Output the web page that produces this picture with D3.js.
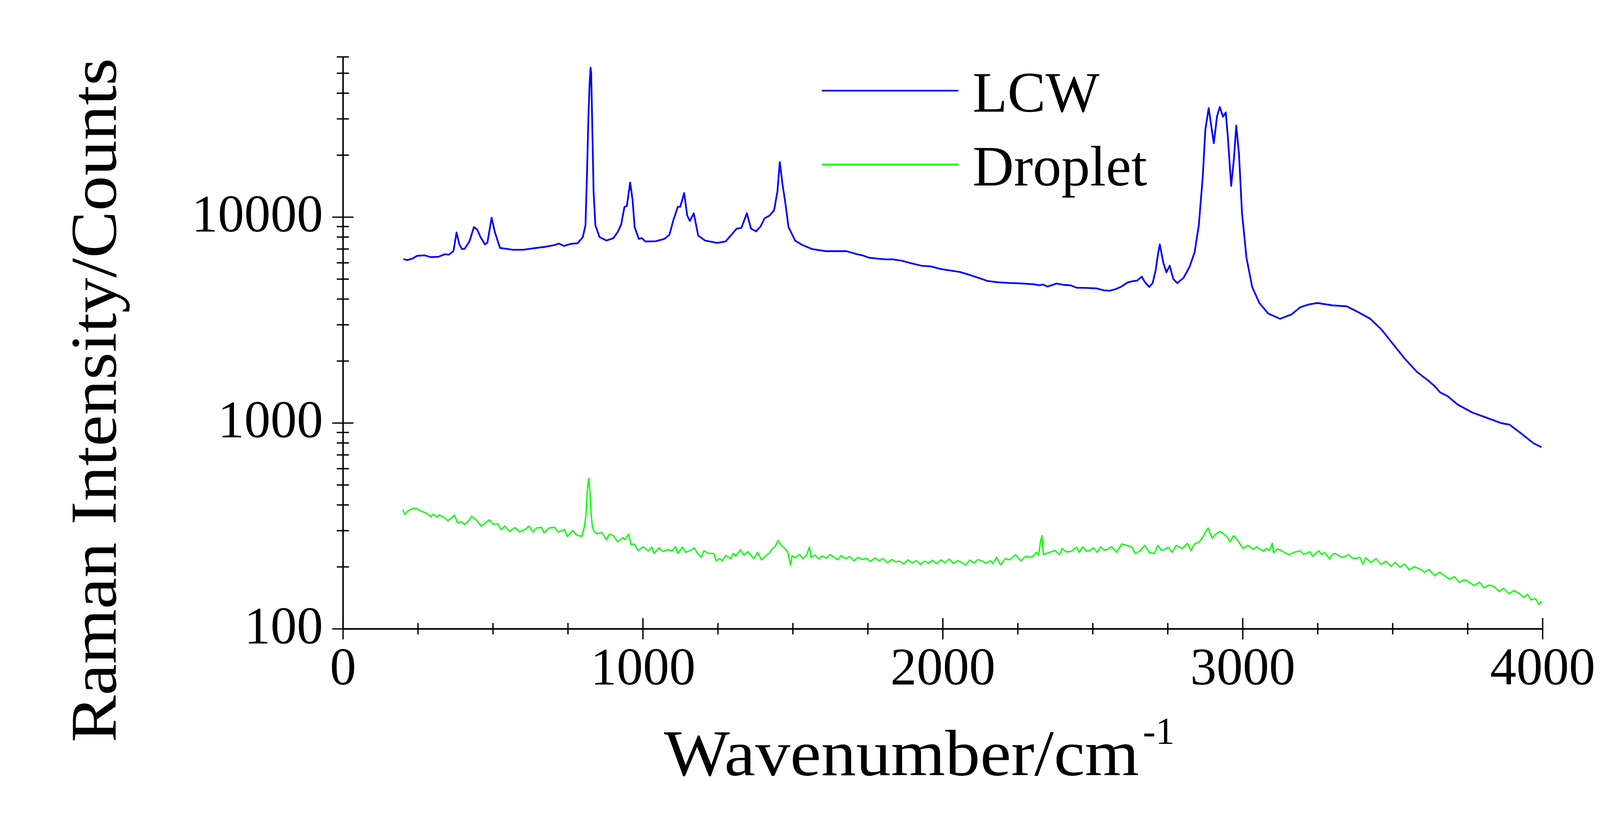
<!DOCTYPE html>
<html>
<head>
<meta charset="utf-8">
<script src="https://cdn.jsdelivr.net/npm/d3@7"></script>
<style>
  html, body { margin: 0; padding: 0; background: #fff; overflow: hidden; }
  svg { display: block; width: 100vw; height: 50vw; }
  text { font-family: "Liberation Serif", "DejaVu Serif", serif; fill: #000; }
</style>
</head>
<body>
<script>
// LCW spectrum (wavenumber / counts)
const lcwWavenumber = [202,215,232,247,272,293,318,340,354,369,379,388,397,406,422,437,448,459,474,482,496,507,524,567,601,635,680,709,720,737,760,783,800,809,814,819,823,826,828,831,836,842,856,879,902,916,928,939,947,958,966,973,987,996,1009,1043,1072,1089,1102,1117,1125,1138,1148,1157,1170,1185,1208,1248,1276,1293,1313,1329,1347,1361,1378,1393,1406,1423,1438,1449,1457,1466,1474,1486,1508,1531,1565,1610,1679,1715,1734,1754,1780,1812,1831,1863,1896,1928,1961,1993,2026,2058,2091,2123,2149,2181,2220,2266,2304,2324,2334,2350,2380,2402,2428,2447,2479,2512,2538,2557,2577,2596,2616,2635,2648,2664,2674,2689,2700,2710,2718,2724,2736,2746,2757,2769,2782,2803,2823,2840,2854,2867,2876,2887,2904,2915,2924,2935,2944,2951,2962,2971,2979,2988,2998,3013,3032,3056,3085,3125,3163,3192,3221,3250,3299,3348,3387,3426,3464,3503,3542,3581,3620,3640,3659,3683,3717,3766,3815,3863,3890,3931,3970,3997];
const lcwCounts = [6240,6170,6280,6470,6510,6380,6400,6590,6560,6840,8410,7390,6980,7000,7600,8930,8690,7980,7360,7500,9910,8430,7070,6930,6930,7040,7180,7320,7430,7230,7400,7450,7980,9100,16100,31300,45000,53100,50000,31000,13300,9100,7980,7680,7890,8430,9180,11200,11300,14700,12100,8930,7820,7900,7600,7620,7820,8200,9640,11200,11200,13070,10200,9560,10420,8110,7680,7480,7600,8110,8770,8850,10420,8770,8510,9000,9840,10160,10790,13300,18460,14360,12100,8930,7680,7320,6980,6820,6820,6590,6500,6340,6280,6220,6230,6130,5950,5800,5750,5590,5490,5400,5220,5040,4890,4820,4780,4750,4710,4650,4700,4590,4750,4680,4650,4530,4520,4500,4400,4380,4460,4590,4800,4880,4900,5130,4830,4570,4770,5490,6590,7360,5970,5380,5800,5000,4770,5060,5710,6730,9080,15530,26600,33800,22800,30900,34200,30700,32200,24300,14150,19100,27800,20300,10500,6340,4570,3820,3400,3200,3360,3640,3760,3820,3720,3680,3440,3200,2830,2400,2040,1770,1600,1510,1405,1350,1227,1122,1057,996,980,883,796,761];

// Droplet spectrum (wavenumber / counts)
const dropletWavenumber = [200,206,220,236,247,260,277,293,301,314,321,334,350,362,372,382,394,406,419,429,447,461,468,488,501,516,528,540,556,574,589,605,621,633,645,662,671,686,706,718,739,749,767,781,797,805,811,815,819,824,828,832,838,848,864,879,888,901,917,933,941,953,961,972,984,1002,1018,1030,1038,1054,1067,1083,1099,1109,1117,1132,1143,1159,1172,1180,1195,1204,1221,1237,1245,1257,1265,1277,1293,1302,1310,1326,1338,1350,1370,1383,1396,1410,1422,1432,1442,1451,1458,1466,1474,1483,1493,1498,1510,1522,1534,1546,1556,1561,1574,1586,1598,1612,1624,1636,1650,1662,1676,1690,1704,1718,1732,1746,1760,1774,1788,1802,1816,1830,1844,1856,1870,1884,1898,1912,1926,1940,1954,1966,1980,1994,2008,2022,2036,2050,2063,2076,2090,2104,2118,2132,2146,2159,2167,2180,2193,2208,2224,2243,2261,2277,2297,2313,2320,2326,2331,2336,2354,2374,2390,2398,2413,2427,2447,2455,2467,2479,2491,2503,2515,2527,2538,2548,2564,2580,2597,2613,2630,2643,2658,2674,2690,2706,2718,2729,2739,2752,2765,2779,2799,2816,2828,2840,2856,2868,2876,2885,2893,2899,2909,2925,2939,2948,2958,2970,2982,2990,3002,3018,3035,3047,3059,3070,3079,3089,3099,3103,3117,3131,3143,3155,3172,3192,3203,3213,3224,3234,3254,3264,3274,3290,3300,3310,3322,3334,3354,3365,3375,3391,3401,3411,3428,3445,3462,3478,3495,3509,3525,3540,3556,3572,3591,3607,3622,3640,3656,3674,3690,3706,3722,3740,3756,3772,3790,3806,3822,3839,3855,3870,3888,3905,3921,3937,3950,3962,3977,3988,3996];
const dropletCounts = [379,360,376,384,382,373,365,350,360,348,357,350,335,344,357,327,331,321,333,352,335,315,320,338,322,324,303,315,297,310,295,302,315,295,308,311,292,308,311,295,303,280,300,284,281,312,360,464,537,464,360,312,297,289,293,270,287,284,264,277,271,288,256,258,240,250,239,249,232,247,237,242,239,251,232,249,235,240,247,235,222,239,232,232,214,219,214,227,219,232,225,242,227,237,219,235,216,226,233,244,252,268,259,250,246,236,204,226,221,230,219,227,250,222,228,218,226,220,229,224,216,227,219,224,214,222,217,220,212,221,214,219,209,217,211,213,206,216,209,214,205,213,208,215,207,216,209,218,207,214,210,204,215,209,217,213,208,214,207,222,204,219,216,229,214,225,222,235,227,264,283,229,234,240,229,245,236,237,249,235,250,238,240,247,235,250,241,242,250,235,258,254,250,231,239,254,234,232,254,240,242,249,235,254,245,260,240,258,264,279,295,308,287,275,287,297,287,280,264,283,271,260,245,254,243,250,243,238,245,240,260,234,244,239,233,229,235,239,230,232,237,225,239,229,235,218,230,232,226,222,229,221,219,222,206,221,210,219,205,213,201,210,199,206,193,200,195,188,194,181,188,181,174,179,168,173,168,162,168,158,163,160,152,157,148,153,149,142,147,138,140,131,136];

const seriesNames = ['LCW', 'Droplet'];
const seriesColors = ['#0000ff', '#00ff00'];

const xMajorTicks = [0, 1000, 2000, 3000, 4000];
const xMinorTicks = [250,500,750,1250,1500,1750,2250,2500,2750,3250,3500,3750];
const yMajorTicks = [100, 1000, 10000];
const yMinorTicks = [200,300,400,500,600,700,800,900,2000,3000,4000,5000,6000,7000,8000,9000,20000,30000,40000,50000,60000];

// drawn in a 4200x2100 user space, fitted to the window width
const svg = d3.select(document.body)
  .append('svg')
  .attr('viewBox', '0 0 4200 2100');

svg.append('rect').attr('width', 4200).attr('height', 2100).attr('fill', '#fff');

const x = d3.scaleLinear().domain([0, 4000]).range([900, 4049]);
const y = d3.scaleLog().domain([100, 60000]).range([1651, 149]);

// spectra
const lcw = lcwWavenumber.map((w, i) => [w, lcwCounts[i]]);
const droplet = dropletWavenumber.map((w, i) => [w, dropletCounts[i]]);
const line = d3.line().x(d => x(d[0])).y(d => y(d[1]));

svg.append('path').datum(droplet)
  .attr('d', line).attr('fill', 'none')
  .attr('stroke', seriesColors[1]).attr('stroke-width', 3.5).attr('stroke-linejoin', 'round');
svg.append('path').datum(lcw)
  .attr('d', line).attr('fill', 'none')
  .attr('stroke', seriesColors[0]).attr('stroke-width', 4.5).attr('stroke-linejoin', 'round');

// x axis: ticks cross the line
const xAxis = svg.append('g').attr('transform', 'translate(0,1651)')
  .call(d3.axisBottom(x).tickValues(xMajorTicks).tickFormat(d3.format('d')).tickSizeInner(28).tickSizeOuter(0));
xAxis.select('.domain').attr('stroke-width', 4.5);
xAxis.selectAll('.tick line').attr('y1', -28).attr('stroke-width', 3.5);
xAxis.selectAll('.tick text').attr('y', 147).attr('dy', null)
  .style('font-size', '138px').style('font-family', '"Liberation Serif", serif');

const xMinor = svg.append('g').attr('transform', 'translate(0,1651)')
  .call(d3.axisBottom(x).tickValues(xMinorTicks).tickFormat('').tickSizeInner(15).tickSizeOuter(0));
xMinor.select('.domain').remove();
xMinor.selectAll('.tick line').attr('y1', -15).attr('stroke-width', 3.5);

// y axis (log)
const yAxis = svg.append('g').attr('transform', 'translate(900,0)')
  .call(d3.axisLeft(y).tickValues(yMajorTicks).tickFormat(d3.format('d')).tickSizeInner(28).tickSizeOuter(0));
yAxis.select('.domain').attr('stroke-width', 4);
yAxis.selectAll('.tick line').attr('x1', 28).attr('stroke-width', 3.5);
yAxis.selectAll('.tick text').attr('x', -52).attr('y', 38).attr('dy', null)
  .style('font-size', '138px').style('font-family', '"Liberation Serif", serif');

const yMinor = svg.append('g').attr('transform', 'translate(900,0)')
  .call(d3.axisLeft(y).tickValues(yMinorTicks).tickFormat('').tickSizeInner(16).tickSizeOuter(0));
yMinor.select('.domain').remove();
yMinor.selectAll('.tick line').attr('x1', 16).attr('stroke-width', 3.5);

// axis titles
svg.append('text')
  .attr('transform', 'translate(304,1051) rotate(-90)')
  .attr('text-anchor', 'middle')
  .attr('textLength', 1797)
  .attr('lengthAdjust', 'spacingAndGlyphs')
  .style('font-size', '172px')
  .text('Raman Intensity/Counts');

svg.append('text').attr('x', 1743).attr('y', 2035)
  .attr('textLength', 1247)
  .attr('lengthAdjust', 'spacingAndGlyphs')
  .style('font-size', '172px')
  .text('Wavenumber/cm');
svg.append('text').attr('x', 3000).attr('y', 1953)
  .style('font-size', '100px')
  .text('-1');

// legend
const legend = svg.append('g');
seriesNames.forEach((name, i) => {
  const ly = 238 + i * 194;
  legend.append('line')
    .attr('x1', 2159).attr('x2', 2514).attr('y1', ly).attr('y2', ly)
    .attr('stroke', seriesColors[i]).attr('stroke-width', 4.5).attr('stroke-linecap', 'round');
  legend.append('text')
    .attr('x', 2553).attr('y', ly + 55)
    .style('font-size', '150px')
    .text(name);
});
</script>
</body>
</html>
